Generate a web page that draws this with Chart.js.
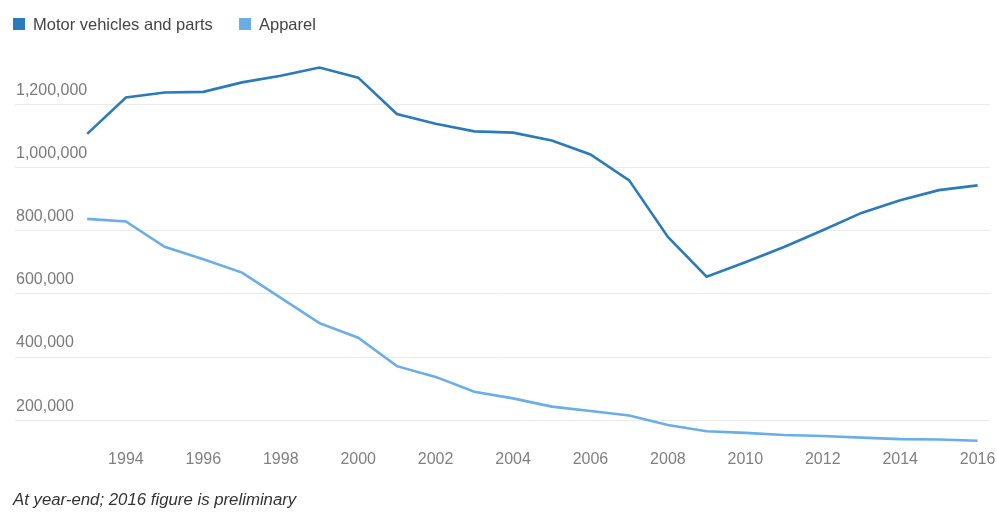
<!DOCTYPE html>
<html>
<head>
<meta charset="utf-8">
<script src="https://cdn.jsdelivr.net/npm/chart.js@4"></script>
<style>
  html, body { margin: 0; padding: 0; background: #fff; }
  #wrap { position: relative; width: 997px; height: 512px; overflow: hidden; }
  #legend { position: absolute; left: 0; top: 0; width: 997px; height: 40px;
            font: 16.5px 'Liberation Sans', Arial, sans-serif; color: #444; }
  .item { position: absolute; top: 14px; display: flex; align-items: center; height: 20px; white-space: nowrap; }
  .box { width: 12px; height: 12px; margin-right: 8px; }
  #note { position: absolute; left: 13px; top: 490px; line-height: 1;
          font: italic 16.8px 'Liberation Sans', Arial, sans-serif; color: #333; white-space: nowrap; }
</style>
</head>
<body>
<div id="wrap">
  <canvas id="chart"></canvas>
  <div id="legend"></div>
  <div id="note">At year-end; 2016 figure is preliminary</div>
</div>
<script>
// Employment at year-end, 1993-2016
const years = [1993, 1994, 1995, 1996, 1997, 1998, 1999, 2000, 2001, 2002, 2003, 2004,
               2005, 2006, 2007, 2008, 2009, 2010, 2011, 2012, 2013, 2014, 2015, 2016];

const motorVehicles = [1106000, 1221000, 1237000, 1239000, 1269000, 1290000, 1316000, 1284000,
                       1169000, 1138000, 1114000, 1110000, 1085000, 1041000, 959000, 780000,
                       654000, 700000, 748000, 801000, 856000, 896000, 928000, 943000];

const apparel = [837000, 829000, 749000, 709000, 667000, 587000, 507000, 461000,
                 371000, 337000, 290000, 269000, 243000, 229000, 215000, 185000,
                 165000, 160000, 153000, 150000, 145000, 140000, 139000, 135000];

const seriesNames = ['Motor vehicles and parts', 'Apparel'];
const lineColors = ['#2b7bba', '#6aaee8'];

const xTickYears = [1994, 1996, 1998, 2000, 2002, 2004, 2006, 2008, 2010, 2012, 2014, 2016];
const yTickValues = [200000, 400000, 600000, 800000, 1000000, 1200000];

// legend
const legendLeft = [13, 239];
const legendEl = document.getElementById('legend');
seriesNames.forEach((name, i) => {
    const item = document.createElement('div');
    item.className = 'item';
    item.style.left = legendLeft[i] + 'px';
    item.innerHTML = '<span class="box" style="background:' + lineColors[i] + '"></span>' + name;
    legendEl.appendChild(item);
});

const canvas = document.getElementById('chart');
canvas.width = 997;
canvas.height = 512;

const toPoints = (vals) => years.map((yr, i) => ({ x: yr, y: vals[i] }));

new Chart(canvas, {
    type: 'line',
    data: {
        datasets: [
            {
                label: seriesNames[0],
                data: toPoints(motorVehicles),
                borderColor: lineColors[0],
                borderWidth: 2.6,
                pointRadius: 0,
                tension: 0,
                fill: false
            },
            {
                label: seriesNames[1],
                data: toPoints(apparel),
                borderColor: lineColors[1],
                borderWidth: 2.6,
                pointRadius: 0,
                tension: 0,
                fill: false
            }
        ]
    },
    options: {
        responsive: false,
        animation: false,
        layout: {
            padding: { left: 13, right: 7, top: 41, bottom: 45 }
        },
        plugins: {
            legend: { display: false },
            tooltip: { enabled: false }
        },
        scales: {
            x: {
                type: 'linear',
                min: 1991.135,
                max: 2016.32,
                afterBuildTicks: (scale) => {
                    scale.ticks = xTickYears.map(v => ({ value: v }));
                },
                grid: { display: false, drawTicks: false },
                border: { display: false },
                ticks: {
                    padding: -2,
                    maxRotation: 0,
                    autoSkip: false,
                    color: '#808080',
                    font: { family: "'Liberation Sans', Arial, sans-serif", size: 16 },
                    callback: (v) => String(v)
                }
            },
            y: {
                min: 100000,
                max: 1400000,
                afterBuildTicks: (scale) => {
                    scale.ticks = yTickValues.map(v => ({ value: v }));
                },
                grid: { color: '#ebebeb', lineWidth: 1, drawTicks: false },
                border: { display: false },
                ticks: {
                    mirror: true,
                    padding: 1,
                    labelOffset: -14,
                    color: '#7a7a7a',
                    font: { family: "'Liberation Sans', Arial, sans-serif", size: 16 },
                    callback: (v) => v.toLocaleString('en-US')
                }
            }
        }
    }
});
</script>
</body>
</html>
